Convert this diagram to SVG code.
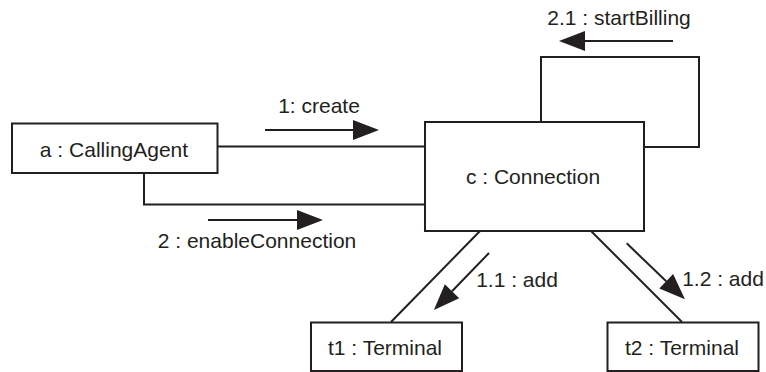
<svg xmlns="http://www.w3.org/2000/svg" width="766" height="372" viewBox="0 0 766 372">
<style>
.box{fill:#fff;stroke:#231f20;stroke-width:2}
.ln{fill:none;stroke:#231f20;stroke-width:2}
.ar{fill:none;stroke:#231f20;stroke-width:2;marker-end:url(#ah)}
text{font-family:"Liberation Sans",Arial,sans-serif;font-size:21px;fill:#231f20;text-anchor:middle}
</style>
<defs>
<marker id="ah" markerUnits="userSpaceOnUse" markerWidth="27" markerHeight="21" refX="0" refY="10" orient="auto" overflow="visible">
<path d="M0,0 L26,10 L0,20 Z" fill="#231f20"/>
</marker>
</defs>
<g id="connectors">
<path class="ln" d="M218,146.5 H425"/>
<path class="ln" d="M144,173 V204.5 H425"/>
<path class="ln" d="M541,122 V57 H699 V147 H644"/>
<path class="ln" d="M480,231 L391,322"/>
<path class="ln" d="M591,231 L682,322"/>
<path class="ar" d="M265,130 H353"/>
<text x="319" y="113">1: create</text>
<path class="ar" d="M208,220 H297"/>
<text x="257" y="248">2 : enableConnection</text>
<path class="ar" d="M673,41 H585"/>
<text x="619" y="25">2.1 : startBilling</text>
<path class="ar" d="M489,253 L452,291.3"/>
<text x="517" y="287">1.1 : add</text>
<path class="ar" d="M626.7,243.3 L666.2,281.3"/>
<text x="723" y="286">1.2 : add</text>
</g>
<g id="callingAgent">
<rect class="box" x="12" y="123.5" width="205.5" height="49.5"/>
<text x="114" y="157">a : CallingAgent</text>
</g>
<g id="connection">
<rect class="box" x="425" y="122" width="219" height="109"/>
<text x="533" y="184">c : Connection</text>
</g>
<g id="t1">
<rect class="box" x="311" y="322.5" width="151" height="48.5"/>
<text x="385" y="355">t1 : Terminal</text>
</g>
<g id="t2">
<rect class="box" x="607.5" y="322.5" width="151" height="48.5"/>
<text x="682" y="355">t2 : Terminal</text>
</g>
</svg>
